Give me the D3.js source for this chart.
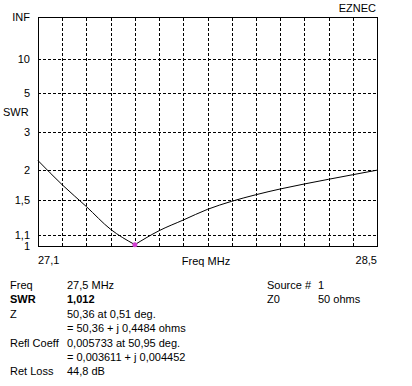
<!DOCTYPE html>
<html>
<head>
<meta charset="utf-8">
<script src="https://cdn.jsdelivr.net/npm/d3@7"></script>
<style>
  html, body { margin: 0; padding: 0; background: #fff; }
  svg { display: block; font-family: "Liberation Sans", Arial, sans-serif; font-size: 11px; }
  .grid line { stroke: #000; stroke-dasharray: 3,2; shape-rendering: crispEdges; }
  .grid path { display: none; }
  .grid text { fill: #000; font-size: 11px; }
  .frame { fill: none; stroke: #000; shape-rendering: crispEdges; }
  .curve { fill: none; stroke: #000; stroke-width: 1; }
</style>
</head>
<body>
<svg id="svg" width="412" height="386"></svg>
<script>
  // frequency (MHz) and SWR
  var freqs = [27.1, 27.2, 27.3, 27.4, 27.5, 27.6, 27.7, 27.8, 27.9, 28.0, 28.1, 28.2, 28.3, 28.4, 28.5];
  var swr = [2.19, 1.73, 1.415, 1.157, 1.012, 1.143, 1.256, 1.381, 1.485, 1.577, 1.663, 1.743, 1.822, 1.904, 1.99];
  var swrTicks = [Infinity, 10, 5, 3, 2, 1.5, 1.1, 1];
  var swrTickLabels = ["INF", "10", "5", "3", "2", "1,5", "1,1", "1"];
  var markFreq = 27.5, markSwr = 1.012;

  var infoLeft = [
    ["Freq", "27,5 MHz"],
    ["SWR", "1,012"],
    ["Z", "50,36 at 0,51 deg."],
    ["", "= 50,36 + j 0,4484 ohms"],
    ["Refl Coeff", "0,005733 at 50,95 deg."],
    ["", "= 0,003611 + j 0,004452"],
    ["Ret Loss", "44,8 dB"]
  ];
  var infoRight = [
    ["Source #", "1"],
    ["Z0", "50 ohms"]
  ];

  var plotL = 38, plotR = 377, plotT = 17, plotB = 246;
  var svg = d3.select("#svg");

  // SWR is plotted on a reflection coefficient scale
  function rho(s) { return s === Infinity ? 1 : (s - 1) / (s + 1); }

  var x = d3.scaleLinear().domain([27.1, 28.5]).range([plotL, plotR]);
  var y = d3.scaleLinear().domain([0, 1]).range([plotB, plotT]);

  svg.append("g")
    .attr("class", "grid")
    .attr("transform", "translate(0," + plotB + ")")
    .call(d3.axisBottom(x).tickValues(freqs).tickSize(-(plotB - plotT)).tickFormat(""));

  var yg = svg.append("g")
    .attr("class", "grid")
    .attr("transform", "translate(" + plotL + ",0)")
    .call(d3.axisLeft(y)
      .tickValues(swrTicks.map(rho))
      .tickSize(-(plotR - plotL))
      .tickPadding(8)
      .tickFormat(function (d, i) { return swrTickLabels[i]; }));
  yg.selectAll("text").attr("x", -8);

  svg.append("rect").attr("class", "frame")
    .attr("x", plotL + 0.5).attr("y", plotT + 0.5)
    .attr("width", plotR - plotL).attr("height", plotB - plotT);

  var pts = freqs.map(function (f, i) { return [f, swr[i]]; });
  var iMin = d3.minIndex(swr);
  var line = d3.line()
    .curve(d3.curveMonotoneX)
    .x(function (d) { return x(d[0]); })
    .y(function (d) { return y(rho(d[1])); });

  // two branches either side of the minimum so the dip stays sharp
  svg.append("path").attr("class", "curve").attr("d", line(pts.slice(0, iMin + 1)));
  svg.append("path").attr("class", "curve").attr("d", line(pts.slice(iMin)));

  svg.append("circle")
    .attr("cx", x(markFreq)).attr("cy", y(rho(markSwr)))
    .attr("r", 2.5).attr("fill", "#d040d0");

  svg.append("text").attr("x", 3).attr("y", 116).text("SWR");
  svg.append("text").attr("x", 376).attr("y", 12).attr("text-anchor", "end").text("EZNEC");
  svg.append("text").attr("x", 38).attr("y", 264).text("27,1");
  svg.append("text").attr("x", 377).attr("y", 264).attr("text-anchor", "end").text("28,5");
  svg.append("text").attr("x", 206).attr("y", 265).attr("text-anchor", "middle").text("Freq MHz");

  var rowY = d3.scaleLinear().domain([0, 1]).range([289, 303.4]);
  infoLeft.forEach(function (r, i) {
    var bold = i === 1 ? "bold" : null;
    svg.append("text").attr("x", 10).attr("y", rowY(i)).attr("font-weight", bold).text(r[0]);
    svg.append("text").attr("x", 67).attr("y", rowY(i)).attr("font-weight", bold).text(r[1]);
  });
  infoRight.forEach(function (r, i) {
    svg.append("text").attr("x", 267).attr("y", rowY(i)).text(r[0]);
    svg.append("text").attr("x", 318).attr("y", rowY(i)).text(r[1]);
  });
</script>
</body>
</html>
